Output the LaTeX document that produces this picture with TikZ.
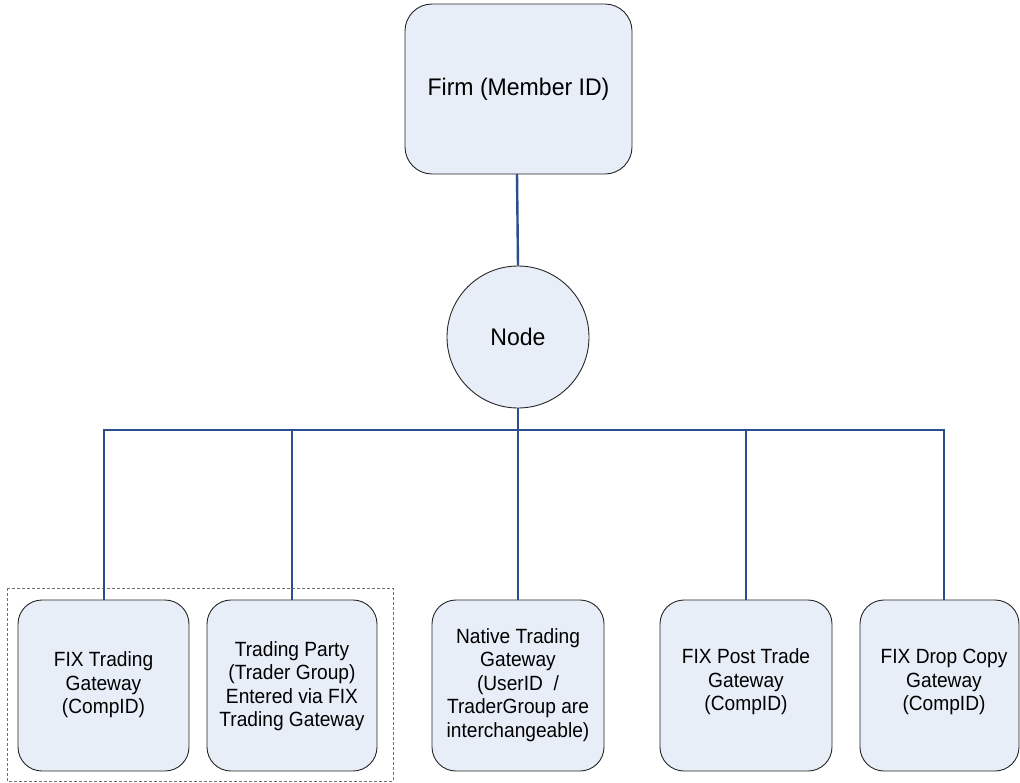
\documentclass[tikz,border=0pt]{standalone}
\usepackage{fontspec}
\setmainfont{Liberation Sans}
\newfontfamily\gwfont[FakeStretch=0.93]{Liberation Sans}
\newfontfamily\topfont[FakeStretch=0.96]{Liberation Sans}
\definecolor{boxfill}{HTML}{E8EEF8}
\definecolor{linkblue}{HTML}{2B4F8C}
\definecolor{dashgray}{HTML}{707070}
\begin{document}
\begin{tikzpicture}[x=1pt,y=-1pt,
  topbox/.style={draw=black!85,line width=0.9pt,fill=boxfill,rounded corners=27pt},
  gwbox/.style={draw=black!85,line width=0.9pt,fill=boxfill,rounded corners=24pt},
  circ/.style={draw=black!85,line width=0.9pt,fill=boxfill,circle,minimum size=142pt,inner sep=0pt},
  bigtext/.style={font=\topfont\fontsize{24}{28}\selectfont,align=center},
  gwtext/.style={font=\gwfont\fontsize{20.6}{23.5}\selectfont,align=center},
  link/.style={draw=linkblue,line width=2.4pt},
  grp/.style={draw=dashgray,line width=0.8pt,dash pattern=on 3pt off 2pt}]
\useasboundingbox (0,0) rectangle (1020,782);
% dashed group
\draw[grp] (7,588) rectangle (393,781);
% Firm
\draw[topbox] (405,4) rectangle (632,174);
\node[bigtext] (firm) at (518.5,89) {Firm (Member ID)};
\coordinate (firmb) at (517,174);
% Node circle
\node[circ] (nd) at (518,337) {};
\node[bigtext] (ndt) at (518,337) {Node};
% bus
\coordinate (b1) at (104,430);
\coordinate (b2) at (292,430);
\coordinate (b3) at (518,430);
\coordinate (b4) at (746,430);
\coordinate (b5) at (944,430);
% gateway boxes
\draw[gwbox] (18,600) rectangle (189,771);
\draw[gwbox] (207,600) rectangle (377,771);
\draw[gwbox] (432,600) rectangle (604,771);
\draw[gwbox] (660,600) rectangle (832,771);
\draw[gwbox] (860,600) rectangle (1019,771);
\coordinate (g1) at (104,600);
\coordinate (g2) at (292,600);
\coordinate (g3) at (518,600);
\coordinate (g4) at (746,600);
\coordinate (g5) at (944,600);
\node[gwtext] (t1) at (103.5,685) {FIX Trading\\Gateway\\(CompID)};
\node[gwtext] (t2) at (292,686) {Trading Party\\(Trader Group)\\Entered via FIX\\Trading Gateway};
\node[gwtext] (t3) at (518,685) {Native Trading\\Gateway\\(UserID\ \ /\\TraderGroup are\\interchangeable)};
\node[gwtext] (t4) at (746,682) {FIX Post Trade\\Gateway\\(CompID)};
\node[gwtext] (t5) at (944,682) {FIX Drop Copy\\Gateway\\(CompID)};
% connectors
\draw[link] (firmb) -- (nd.north);
\draw[link] (nd.south) -- (b3);
\draw[link,line join=miter] (g1) -- (b1) -- (b5) -- (g5);
\draw[link] (b2) -- (g2);
\draw[link] (b3) -- (g3);
\draw[link] (b4) -- (g4);
\end{tikzpicture}
\end{document}
